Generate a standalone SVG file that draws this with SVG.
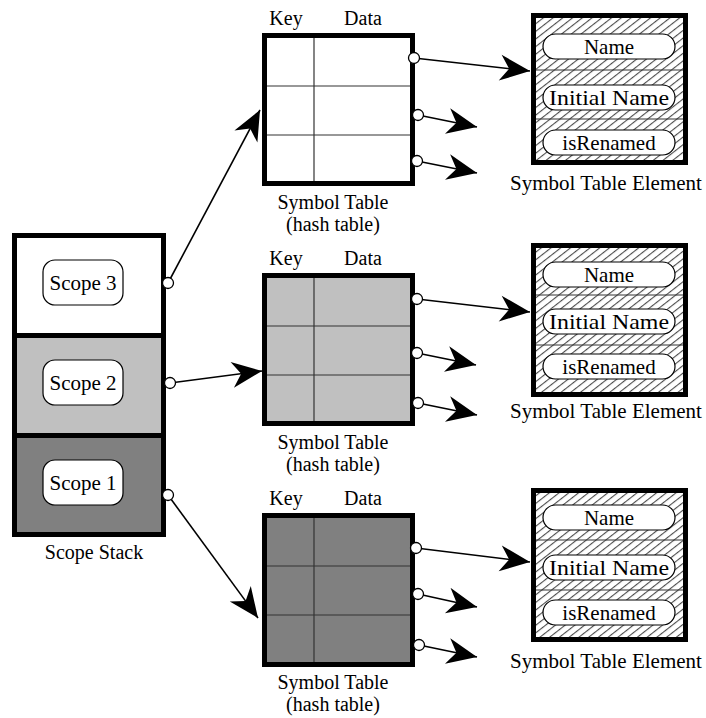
<svg xmlns="http://www.w3.org/2000/svg" width="706" height="718" viewBox="0 0 706 718" font-family="'Liberation Serif', 'Times New Roman', Tinos, 'DejaVu Serif', serif">
  <style>
    text { font-family: "Liberation Serif", "Times New Roman", Tinos, "DejaVu Serif", serif; font-size: 21px; fill: #000; }
    .mid { text-anchor: middle; }
    .small { font-size: 20px; }
    .frame { fill: none; stroke: #000; stroke-width: 5; }
    .grid { stroke: #333; stroke-width: 1.2; fill: none; }
    .sep { stroke: #000; stroke-width: 5; }
    .tag { fill: #fff; stroke: #000; stroke-width: 1.2; }
    .pill { fill: #fff; stroke: #000; stroke-width: 1.2; }
    .link { stroke: #000; stroke-width: 1.6; fill: none; marker-end: url(#head); }
    .dot { fill: #fff; stroke: #000; stroke-width: 1.3; }
    .hatch { fill: url(#hatch); }
  </style>
  <defs>
    <marker id="head" markerUnits="userSpaceOnUse" viewBox="-31 -14 32 28" markerWidth="32" markerHeight="28" refX="0" refY="0" orient="auto">
      <path d="M0,0 L-30,-13 L-21,0 L-30,13 Z" fill="#000"/>
    </marker>
    <pattern id="hatch" patternUnits="userSpaceOnUse" width="6" height="6" patternTransform="rotate(52)">
      <rect width="6" height="6" fill="#fff"/>
      <line x1="0.6" y1="0" x2="0.6" y2="6" stroke="#222" stroke-width="0.9"/>
    </pattern>
  </defs>

  <!-- scope stack -->
  <g id="scope-stack">
    <rect x="14" y="235" width="150" height="100" fill="#fff"/>
    <rect x="14" y="335" width="150" height="100" fill="#c0c0c0"/>
    <rect x="14" y="435" width="150" height="100" fill="#808080"/>
    <line class="sep" x1="14" y1="335.5" x2="164" y2="335.5"/>
    <line class="sep" x1="14" y1="435.5" x2="164" y2="435.5"/>
    <rect class="frame" x="14.5" y="235.5" width="149" height="299"/>
    <text class="mid small" x="94" y="559">Scope Stack</text>
  </g>
  <g id="scope3">
    <rect class="tag" x="43" y="260" width="80" height="45" rx="12"/>
    <text class="mid" x="83" y="290">Scope 3</text>
  </g>
  <g id="scope2">
    <rect class="tag" x="43" y="360" width="80" height="45" rx="12"/>
    <text class="mid" x="83" y="390">Scope 2</text>
  </g>
  <g id="scope1">
    <rect class="tag" x="43" y="460" width="80" height="45" rx="12"/>
    <text class="mid" x="83" y="490">Scope 1</text>
  </g>

  <!-- hash tables -->
  <g id="table1">
    <text class="mid small" x="286" y="25">Key</text>
    <text class="mid small" x="363" y="25">Data</text>
    <rect x="264.5" y="35.5" width="148" height="148" fill="#fff"/>
    <line class="grid" x1="314" y1="36" x2="314" y2="183"/>
    <line class="grid" x1="265" y1="86" x2="412" y2="86"/>
    <line class="grid" x1="265" y1="135" x2="412" y2="135"/>
    <rect class="frame" x="264.5" y="35.5" width="148" height="148"/>
    <text class="mid small" x="333" y="209">Symbol Table</text>
    <text class="mid small" x="333" y="231">(hash table)</text>
  </g>
  <g id="table2">
    <text class="mid small" x="286" y="265">Key</text>
    <text class="mid small" x="363" y="265">Data</text>
    <rect x="264.5" y="275.5" width="148" height="148" fill="#c0c0c0"/>
    <line class="grid" x1="314" y1="276" x2="314" y2="423"/>
    <line class="grid" x1="265" y1="326" x2="412" y2="326"/>
    <line class="grid" x1="265" y1="375" x2="412" y2="375"/>
    <rect class="frame" x="264.5" y="275.5" width="148" height="148"/>
    <text class="mid small" x="333" y="449">Symbol Table</text>
    <text class="mid small" x="333" y="471">(hash table)</text>
  </g>
  <g id="table3">
    <text class="mid small" x="286" y="505">Key</text>
    <text class="mid small" x="363" y="505">Data</text>
    <rect x="264.5" y="515.5" width="148" height="149" fill="#808080"/>
    <line class="grid" x1="314" y1="516" x2="314" y2="664"/>
    <line class="grid" x1="265" y1="566" x2="412" y2="566"/>
    <line class="grid" x1="265" y1="615" x2="412" y2="615"/>
    <rect class="frame" x="264.5" y="515.5" width="148" height="149"/>
    <text class="mid small" x="333" y="689">Symbol Table</text>
    <text class="mid small" x="333" y="711">(hash table)</text>
  </g>

  <!-- symbol table elements -->
  <g id="element1">
    <rect class="hatch" x="533.5" y="15.5" width="152" height="147"/>
    <line class="grid" x1="534" y1="70" x2="685" y2="70"/>
    <line class="grid" x1="534" y1="119" x2="685" y2="119"/>
    <rect class="pill" x="543" y="34" width="132" height="25" rx="12.5"/>
    <rect class="pill" x="543" y="85" width="132" height="25" rx="12.5"/>
    <rect class="pill" x="543" y="130" width="132" height="25" rx="12.5"/>
    <text class="mid" x="609" y="54">Name</text>
    <text class="mid" x="609" y="105" textLength="120" lengthAdjust="spacingAndGlyphs">Initial Name</text>
    <text class="mid" x="609" y="150">isRenamed</text>
    <rect class="frame" x="533.5" y="15.5" width="152" height="147"/>
    <text class="mid" x="606" y="190">Symbol Table Element</text>
  </g>
  <g id="element2">
    <rect class="hatch" x="533.5" y="245.5" width="152" height="149"/>
    <line class="grid" x1="534" y1="295" x2="685" y2="295"/>
    <line class="grid" x1="534" y1="345" x2="685" y2="345"/>
    <rect class="pill" x="543" y="262" width="132" height="25" rx="12.5"/>
    <rect class="pill" x="543" y="309" width="132" height="25" rx="12.5"/>
    <rect class="pill" x="543" y="354" width="132" height="25" rx="12.5"/>
    <text class="mid" x="609" y="282">Name</text>
    <text class="mid" x="609" y="329" textLength="120" lengthAdjust="spacingAndGlyphs">Initial Name</text>
    <text class="mid" x="609" y="374">isRenamed</text>
    <rect class="frame" x="533.5" y="245.5" width="152" height="149"/>
    <text class="mid" x="606" y="418">Symbol Table Element</text>
  </g>
  <g id="element3">
    <rect class="hatch" x="533.5" y="490.5" width="152" height="149"/>
    <line class="grid" x1="534" y1="540" x2="685" y2="540"/>
    <line class="grid" x1="534" y1="590" x2="685" y2="590"/>
    <rect class="pill" x="543" y="505" width="132" height="25" rx="12.5"/>
    <rect class="pill" x="543" y="555" width="132" height="25" rx="12.5"/>
    <rect class="pill" x="543" y="600" width="132" height="25" rx="12.5"/>
    <text class="mid" x="609" y="525">Name</text>
    <text class="mid" x="609" y="575" textLength="120" lengthAdjust="spacingAndGlyphs">Initial Name</text>
    <text class="mid" x="609" y="620">isRenamed</text>
    <rect class="frame" x="533.5" y="490.5" width="152" height="149"/>
    <text class="mid" x="606" y="668">Symbol Table Element</text>
  </g>

  <!-- pointers -->
  <g id="connectors">
    <line class="link" x1="168" y1="283" x2="260" y2="110"/>
    <line class="link" x1="170" y1="383" x2="262" y2="371"/>
    <line class="link" x1="168" y1="495" x2="258" y2="618"/>

    <line class="link" x1="414" y1="58" x2="530" y2="71"/>
    <line class="link" x1="418" y1="115" x2="477" y2="127"/>
    <line class="link" x1="417" y1="161" x2="477" y2="173"/>

    <line class="link" x1="417" y1="299" x2="530" y2="312"/>
    <line class="link" x1="417" y1="353" x2="476" y2="365"/>
    <line class="link" x1="418" y1="403" x2="477" y2="415"/>

    <line class="link" x1="416" y1="548" x2="530" y2="562"/>
    <line class="link" x1="418" y1="594" x2="477" y2="607"/>
    <line class="link" x1="419" y1="645" x2="477" y2="657"/>

    <circle class="dot" cx="168" cy="283" r="5.5"/>
    <circle class="dot" cx="170" cy="383" r="5.5"/>
    <circle class="dot" cx="168" cy="495" r="5.5"/>
    <circle class="dot" cx="414" cy="58" r="5.5"/>
    <circle class="dot" cx="418" cy="115" r="5.5"/>
    <circle class="dot" cx="417" cy="161" r="5.5"/>
    <circle class="dot" cx="417" cy="299" r="5.5"/>
    <circle class="dot" cx="417" cy="353" r="5.5"/>
    <circle class="dot" cx="418" cy="403" r="5.5"/>
    <circle class="dot" cx="416" cy="548" r="5.5"/>
    <circle class="dot" cx="418" cy="594" r="5.5"/>
    <circle class="dot" cx="419" cy="645" r="5.5"/>
  </g>
</svg>
